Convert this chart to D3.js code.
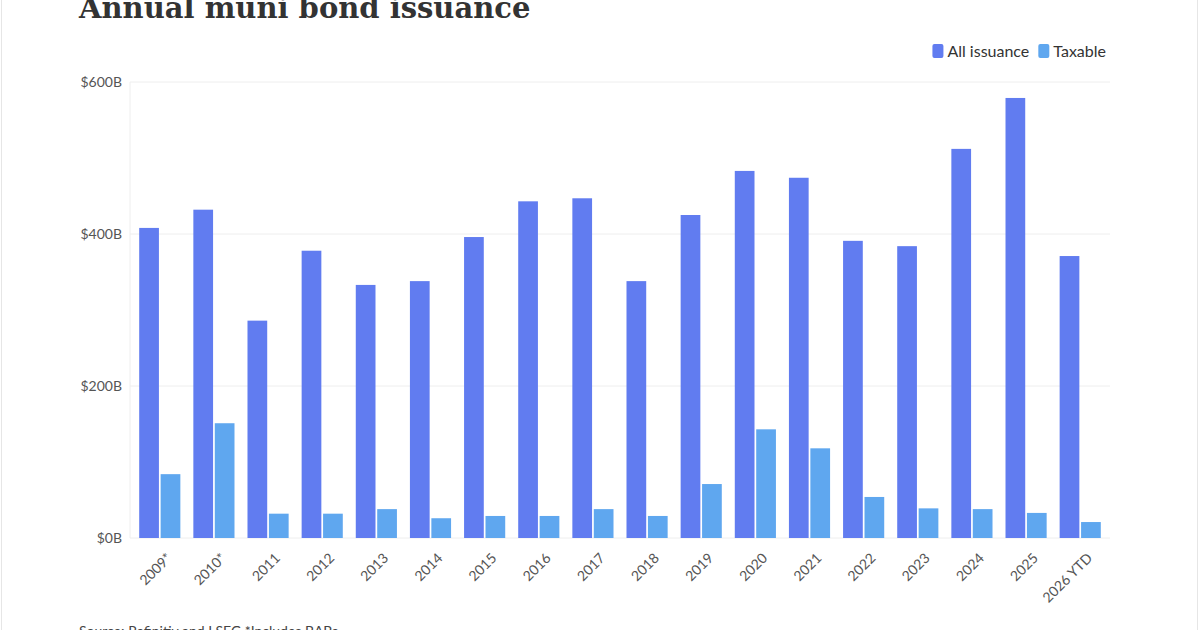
<!DOCTYPE html>
<html><head><meta charset="utf-8">
<script src="https://cdn.jsdelivr.net/npm/d3@7"></script>
<style>body{margin:0;background:#fff}</style>
</head><body><div class="canvas"></div>
<script>
const years = ['2009*','2010*','2011','2012','2013','2014','2015','2016','2017','2018','2019','2020','2021','2022','2023','2024','2025','2026 YTD'];
const allIssuance = [408,432,286,378,333,338,396,443,447,338,425,483,474,391,384,512,579,371];
const taxable = [84,151,32,32,38,26,29,29,38,29,71,143,118,54,39,38,33,21];
const yTicks = [0,200,400,600];
const seriesNames = ['All issuance','Taxable'];
const colors = ['#617cf0','#5fa7ef'];

const svg = d3.select('.canvas').append('svg').attr('width',1200).attr('height',630);
svg.append('rect').attr('x',1.5).attr('y',-2).attr('width',1196).attr('height',640)
    .attr('fill','none').attr('stroke','#e6e6e6');

const margin = {top:82,left:130,right:90,bottom:92};
const w = 1200-margin.left-margin.right, h = 630-margin.top-margin.bottom;
const g = svg.append('g').attr('transform',`translate(${margin.left},${margin.top})`);

const x = d3.scaleBand().domain(years).range([0,w]).paddingInner(0.24).paddingOuter(0.17);
const x1 = d3.scaleBand().domain(seriesNames).range([0,x.bandwidth()]).paddingInner(0.08);
const y = d3.scaleLinear().domain([0,600]).range([h,0]);

g.selectAll('.grid').data(yTicks).enter().append('line')
    .attr('x1',0).attr('x2',w).attr('y1',d=>y(d)).attr('y2',d=>y(d))
    .attr('stroke','#eeeeee');
g.append('line').attr('x1',0).attr('x2',0).attr('y1',0).attr('y2',h).attr('stroke','#eeeeee');

g.selectAll('.yl').data(yTicks).enter().append('text')
    .attr('x',-8).attr('y',d=>y(d)+5).attr('text-anchor','end')
    .attr('font-family','Lato').attr('font-size',14).attr('fill','#555')
    .text(d=>'$'+d+'B');

[allIssuance,taxable].forEach((vals,si)=>{
    g.selectAll('.b'+si).data(vals).enter().append('rect')
        .attr('x',(d,i)=>x(years[i])+x1(seriesNames[si]))
        .attr('width',x1.bandwidth())
        .attr('y',d=>y(d)).attr('height',d=>h-y(d))
        .attr('fill',colors[si]);
});

g.selectAll('.xl').data(years).enter().append('text')
    .attr('transform',d=>`translate(${x(d)+x.bandwidth()/2+6},${h+14}) rotate(-45)`)
    .attr('text-anchor','end').attr('dy','0.7em')
    .attr('font-family','Lato').attr('font-size',14).attr('fill','#555')
    .text(d=>d);

svg.append('text').attr('x',79).attr('y',18)
    .attr('font-family','DejaVu Serif').attr('font-weight','bold').attr('font-size',29)
    .attr('fill','#333').text('Annual muni bond issuance');

// legend
const leg = svg.append('g').attr('transform','translate(1106,51)');
let lx = 0;
[...seriesNames].reverse().forEach((n,i)=>{
    const t = leg.append('text').attr('text-anchor','end').attr('x',-lx).attr('y',6)
        .attr('font-family','Lato').attr('font-size',16).attr('fill','#333').text(n);
    const tw = t.node().getComputedTextLength();
    leg.append('rect').attr('x',-lx-tw-15).attr('y',-7).attr('width',11).attr('height',14)
        .attr('rx',2).attr('fill',colors[seriesNames.length-1-i]);
    lx += tw + 24;
});

svg.append('text').attr('x',79).attr('y',636)
    .attr('font-family','Lato').attr('font-size',14).attr('fill','#444')
    .text('Source: Refinitiv and LSEG *Includes BABs');
</script></body></html>
